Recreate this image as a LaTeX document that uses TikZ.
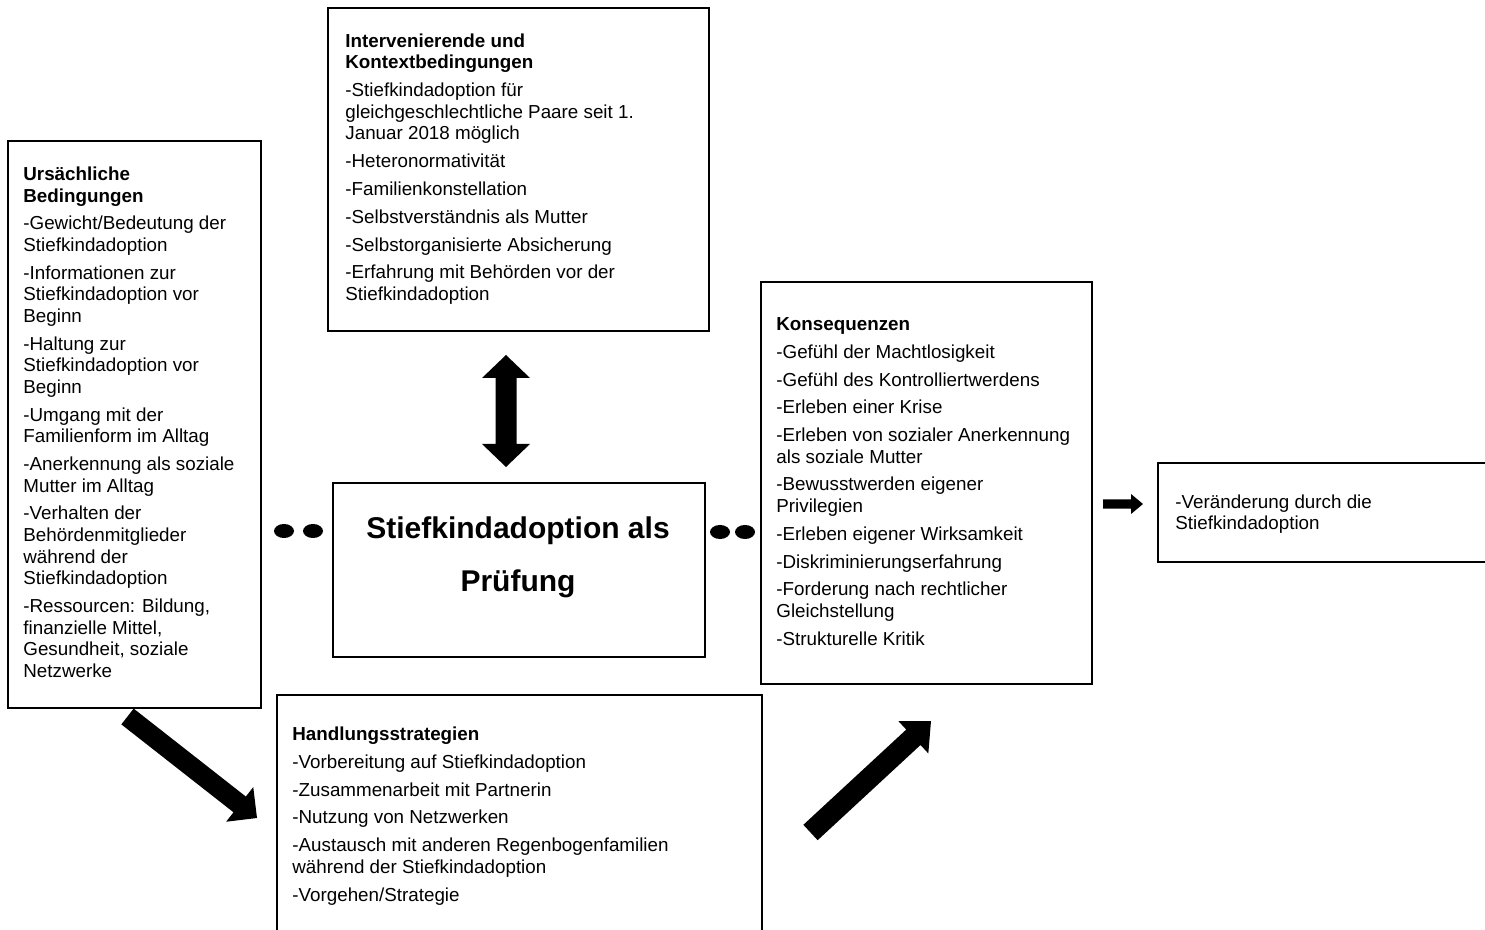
\documentclass[tikz,border=0pt]{standalone}
\usepackage{fontspec}
\setmainfont{Liberation Sans}
\usetikzlibrary{calc,fit,shapes.geometric}
\tikzset{
  box/.style={draw=black, line width=1.4pt, inner sep=0pt, rectangle},
  txt/.style={anchor=north west, inner sep=0pt, align=left, font=\fontsize{9.4}{10.8}\selectfont},
  ttl/.style={anchor=north, inner sep=0pt, align=center, font=\fontsize{15}{26.5}\selectfont\bfseries},
  dotnode/.style={ellipse, fill=black, draw=none, minimum width=10pt, minimum height=7pt, inner sep=0pt},
}
% #1 tail, #2 tip, #3 shaft half width, #4 head half width, #5 head length
\newcommand\blockarrow[5]{%
  \path ($(#2)!#5!(#1)$) coordinate (ba-m);
  \fill ($(#1)!#3!90:(#2)$) -- ($(ba-m)!#3!90:(#2)$) -- ($(ba-m)!#4!90:(#2)$) -- (#2)
     -- ($(ba-m)!#4!-90:(#2)$) -- ($(ba-m)!#3!-90:(#2)$) -- ($(#1)!#3!-90:(#2)$) -- cycle;}
\newcommand\dblarrow[5]{%
  \path ($(#1)!#5!(#2)$) coordinate (da-a) ($(#2)!#5!(#1)$) coordinate (da-b);
  \fill (#1) -- ($(da-a)!#4!90:(#2)$) -- ($(da-a)!#3!90:(#2)$) -- ($(da-b)!#3!-90:(#1)$)
     -- ($(da-b)!#4!-90:(#1)$) -- (#2) -- ($(da-b)!#4!90:(#1)$) -- ($(da-b)!#3!90:(#1)$)
     -- ($(da-a)!#3!-90:(#2)$) -- ($(da-a)!#4!-90:(#2)$) -- cycle;}
\begin{document}
\begin{tikzpicture}[x=0.5pt,y=-0.5pt]
\useasboundingbox (0,0) rectangle (1485,930);
\clip (0,0) rectangle (1485,930);

% boxes
\node[box, fit={(8,141) (261,708)}] (caus) {};
\node[box, fit={(328,8) (709,331)}] (interv) {};
\node[box, fit={(333,483) (705,657)}] (center) {};
\node[box, fit={(761,282) (1092,684)}] (kons) {};
\node[box, fit={(277,695) (762,950)}] (handl) {};
\node[box, fit={(1158,463) (1500,562)}] (verand) {};

% texts
\node[txt] (causT) at (23,166) {\rule{0pt}{7pt}\textbf{Ursächliche}\\
\textbf{Bedingungen}\\[3.1pt]
-Gewicht/Bedeutung der\\ Stiefkindadoption\\[3.1pt]
-Informationen zur\\ Stiefkindadoption vor\\ Beginn\\[3.1pt]
-Haltung zur\\ Stiefkindadoption vor\\ Beginn\\[3.1pt]
-Umgang mit der\\ Familienform im Alltag\\[3.1pt]
-Anerkennung als soziale\\ Mutter im Alltag\\[3.1pt]
-Verhalten der\\ Behördenmitglieder\\ während der\\ Stiefkindadoption\\[3.1pt]
-Ressourcen: Bildung,\\ finanzielle Mittel,\\ Gesundheit, soziale\\ Netzwerke};

\node[txt] (intervT) at (345,33) {\rule{0pt}{7pt}\textbf{Intervenierende und}\\
\textbf{Kontextbedingungen}\\[3.1pt]
-Stiefkindadoption für\\ gleichgeschlechtliche Paare seit 1.\\ Januar 2018 möglich\\[3.1pt]
-Heteronormativität\\[3.1pt]
-Familienkonstellation\\[3.1pt]
-Selbstverständnis als Mutter\\[3.1pt]
-Selbstorganisierte Absicherung\\[3.1pt]
-Erfahrung mit Behörden vor der\\ Stiefkindadoption};

\node[ttl] (centerT) at (518,516) {\rule{0pt}{11pt}Stiefkindadoption als\\ Prüfung};

\node[txt] (konsT) at (776,316) {\rule{0pt}{7pt}\textbf{Konsequenzen}\\[3.1pt]
-Gefühl der Machtlosigkeit\\[3.1pt]
-Gefühl des Kontrolliertwerdens\\[3.1pt]
-Erleben einer Krise\\[3.1pt]
-Erleben von sozialer Anerkennung\\ als soziale Mutter\\[3.1pt]
-Bewusstwerden eigener\\ Privilegien\\[3.1pt]
-Erleben eigener Wirksamkeit\\[3.1pt]
-Diskriminierungserfahrung\\[3.1pt]
-Forderung nach rechtlicher\\ Gleichstellung\\[3.1pt]
-Strukturelle Kritik};

\node[txt] (handlT) at (292,726) {\rule{0pt}{7pt}\textbf{Handlungsstrategien}\\[3.1pt]
-Vorbereitung auf Stiefkindadoption\\[3.1pt]
-Zusammenarbeit mit Partnerin\\[3.1pt]
-Nutzung von Netzwerken\\[3.1pt]
-Austausch mit anderen Regenbogenfamilien\\ während der Stiefkindadoption\\[3.1pt]
-Vorgehen/Strategie};

\node[txt] (verandT) at (1175,494) {\rule{0pt}{7pt}-Veränderung durch die\\ Stiefkindadoption};

% dots
\node[dotnode] (d1) at (284,531) {};
\node[dotnode] (d2) at (313,531) {};
\node[dotnode] (d3) at (720,532) {};
\node[dotnode] (d4) at (745,532) {};

% block arrows
\coordinate (vA) at (506,355);
\coordinate (vB) at (506,467);
\dblarrow{vA}{vB}{5.25pt}{12pt}{11.5pt}

\coordinate (lT) at (127.5,716.5);
\coordinate (lH) at (257,818);
\blockarrow{lT}{lH}{5pt}{11pt}{11pt}

\coordinate (rT) at (810.5,832.5);
\coordinate (rH) at (931,721);
\blockarrow{rT}{rH}{5.25pt}{11pt}{12pt}

\coordinate (sT) at (1103,504);
\coordinate (sH) at (1143,504);
\blockarrow{sT}{sH}{2.3pt}{5pt}{6pt}
\end{tikzpicture}
\end{document}
